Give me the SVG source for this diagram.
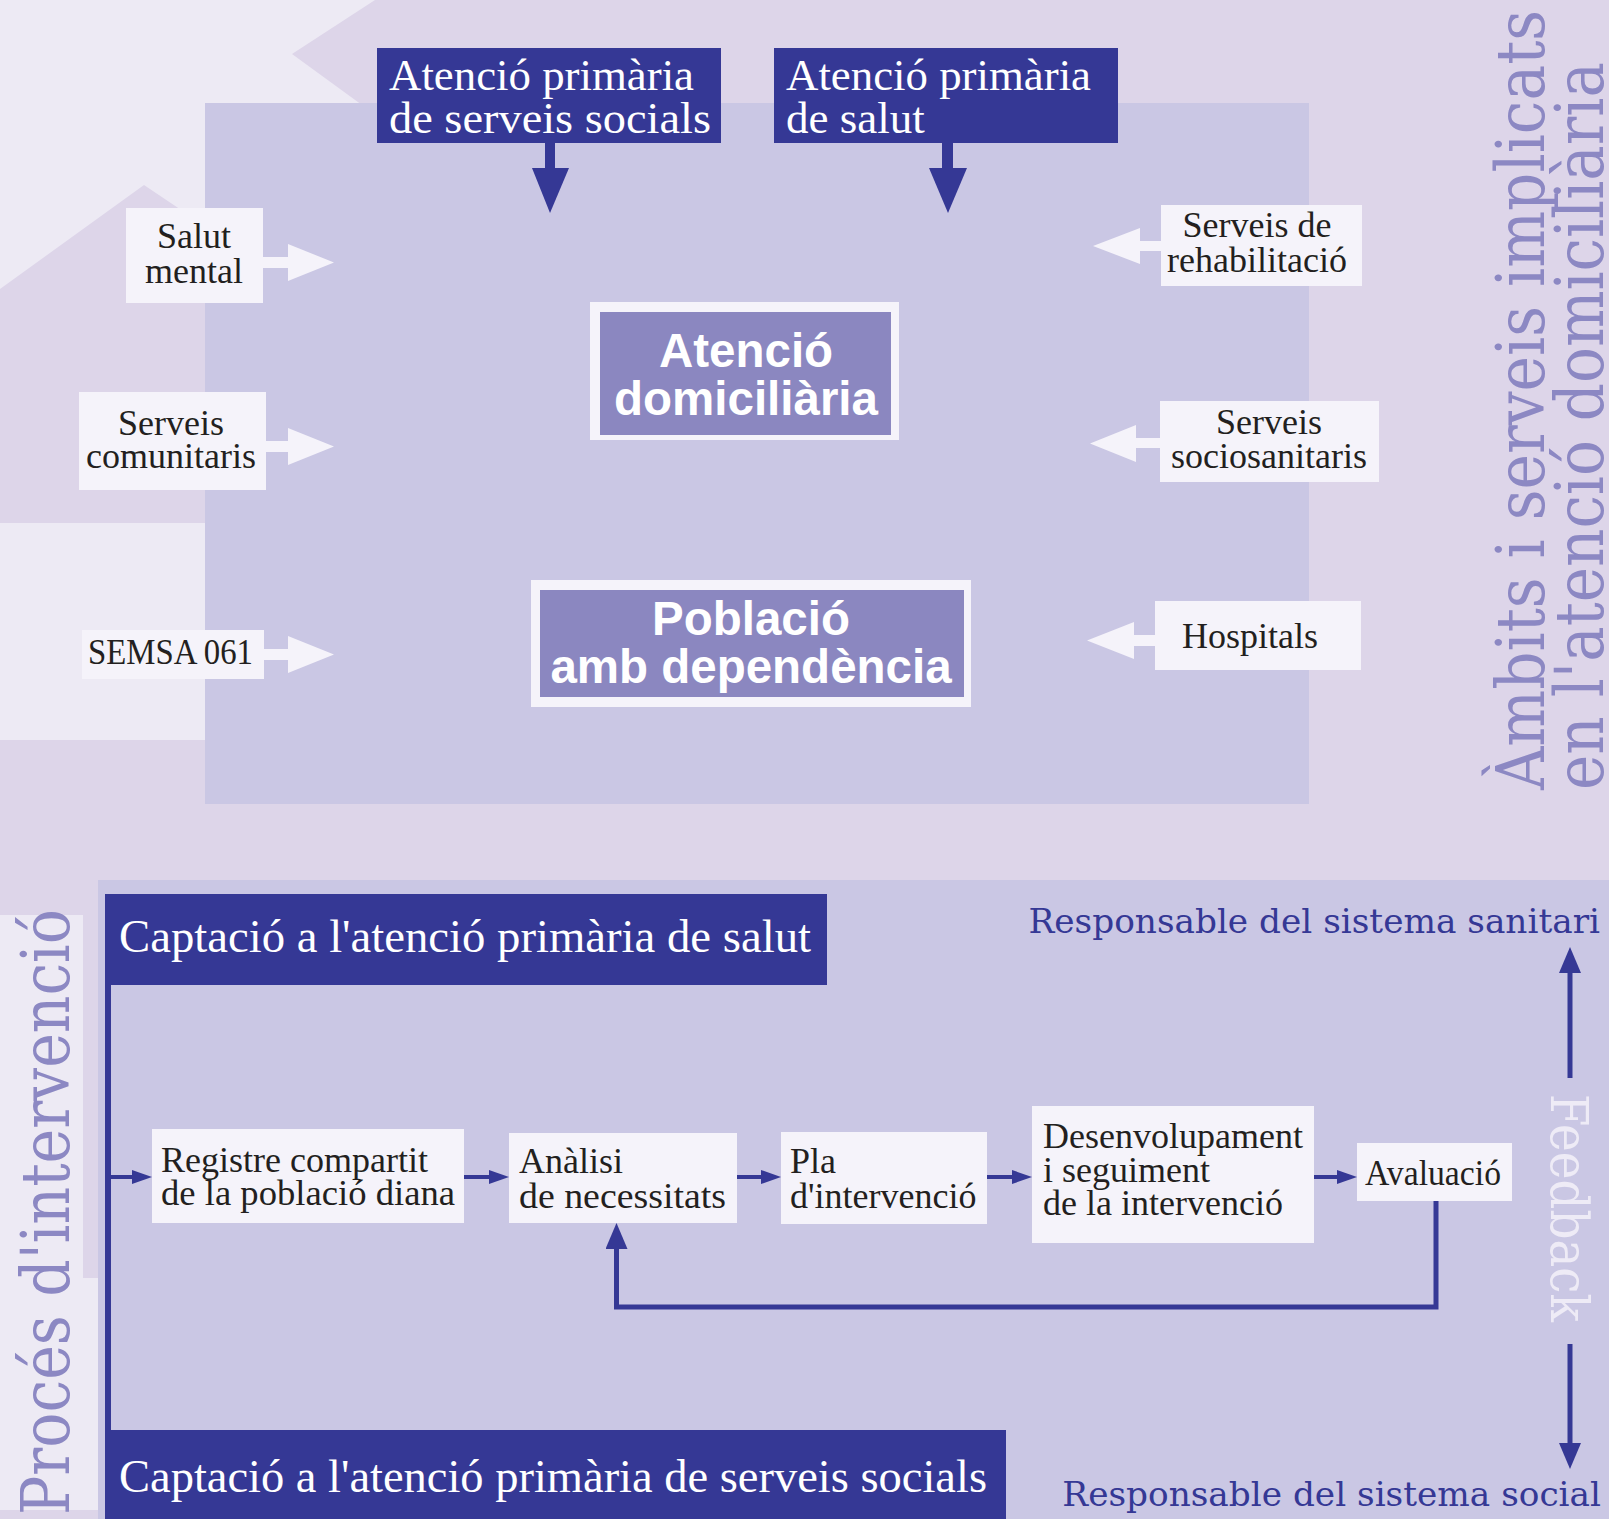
<svg xmlns="http://www.w3.org/2000/svg" width="1609" height="1519" viewBox="0 0 1609 1519">
<defs>
<style>
.bgl{fill:#EDEAF4}
.pane{fill:#CAC7E4}
.box{fill:#F5F3FA}
.dk{fill:#353895}
.mid{fill:#8B87C0}
.t{font-family:"Liberation Serif","Times New Roman",serif;font-size:36px;fill:#231F20}
.tc{text-anchor:middle}
.wt{font-family:"Liberation Serif","Times New Roman",serif;fill:#FFFFFF}
.sans{font-family:"Liberation Sans",Arial,sans-serif;font-weight:bold;font-size:47.5px;fill:#FFFFFF;text-anchor:middle}
.ttl{font-family:"DejaVu Serif","Liberation Serif",serif;font-size:68px;fill:#8C88C3}
.resp{font-family:"DejaVu Serif","Liberation Serif",serif;font-size:34.3px;fill:#353895;text-anchor:end}
.conn{stroke:#353895;fill:none}
.warr{fill:#F5F3FA}
</style>
<marker id="ah" markerUnits="userSpaceOnUse" viewBox="0 0 20 14" markerWidth="20" markerHeight="14" refX="0" refY="7" orient="auto">
<path d="M0,0 L20,7 L0,14 Z" fill="#353895"/>
</marker>
<marker id="ahL" markerUnits="userSpaceOnUse" viewBox="0 0 26 22" markerWidth="26" markerHeight="22" refX="0" refY="11" orient="auto">
<path d="M0,0 L26,11 L0,22 Z" fill="#353895"/>
</marker>
</defs>

<!-- background -->
<rect x="0" y="0" width="1609" height="1519" fill="#DDD5E9"/>
<polygon class="bgl" points="0,0 375,0 292,54 362,105 205,105 205,226 144,185 0,289"/>
<rect class="bgl" x="0" y="523" width="206" height="217"/>
<rect class="pane" x="205" y="103" width="1104" height="701"/>
<rect class="pane" x="98" y="880" width="1511" height="639"/>
<rect class="bgl" x="0" y="915" width="83" height="595"/>
<rect class="bgl" x="83" y="1278" width="15" height="232"/>

<!-- titles -->
<g id="title-ambits">
<text class="ttl" transform="translate(1544,790) rotate(-90)" textLength="780" lengthAdjust="spacingAndGlyphs">Àmbits i serveis implicats</text>
<text class="ttl" transform="translate(1603,790) rotate(-90)" textLength="728" lengthAdjust="spacingAndGlyphs">en l'atenció domiciliària</text>
</g>
<g id="title-proces">
<text class="ttl" transform="translate(69,1515) rotate(-90)" textLength="606" lengthAdjust="spacingAndGlyphs">Procés d'intervenció</text>
</g>
<g id="title-feedback">
<text transform="translate(1551,1094) rotate(90)" font-family="DejaVu Serif, Liberation Serif, serif" font-size="53" fill="#EEEBF6" textLength="228" lengthAdjust="spacingAndGlyphs">Feedback</text>
</g>

<!-- connectors -->
<g id="connectors">
<rect class="dk" x="545" y="143" width="10" height="26"/>
<polygon class="dk" points="532,168 569,168 550,213"/>
<rect class="dk" x="942" y="143" width="11" height="26"/>
<polygon class="dk" points="929,168 967,168 948,213"/>
<polygon class="warr" points="263,257 288,257 288,244 334,262.5 288,281 288,268 263,268"/>
<polygon class="warr" points="266,441 288,441 288,428 334,446.5 288,465 288,452 266,452"/>
<polygon class="warr" points="264,649 288,649 288,636 334,654.5 288,673 288,660 264,660"/>
<polygon class="warr" points="1161,241 1140,241 1140,228 1093,246 1140,264 1140,251 1161,251"/>
<polygon class="warr" points="1160,438 1136,438 1136,425 1090,443.5 1136,462 1136,448 1160,448"/>
<polygon class="warr" points="1155,635 1134,635 1134,622 1087,640.5 1134,659 1134,646 1155,646"/>
<path class="conn" stroke-width="6" d="M108,984 V1431"/>
<path class="conn" stroke-width="4" d="M110,1177 H132" marker-end="url(#ah)"/>
<path class="conn" stroke-width="4" d="M464,1177 H489" marker-end="url(#ah)"/>
<path class="conn" stroke-width="4" d="M737,1177 H761" marker-end="url(#ah)"/>
<path class="conn" stroke-width="4" d="M987,1177 H1012" marker-end="url(#ah)"/>
<path class="conn" stroke-width="4" d="M1314,1177 H1337" marker-end="url(#ah)"/>
<path class="conn" stroke-width="5" d="M1436,1201 V1307 H616.5 V1249" marker-end="url(#ahL)"/>
<path class="conn" stroke-width="5" d="M1570,1078 V973" marker-end="url(#ahL)"/>
<path class="conn" stroke-width="5" d="M1570,1344 V1443" marker-end="url(#ahL)"/>
</g>

<!-- top nodes -->
<g id="node-apss">
<rect class="dk" x="377" y="48" width="344" height="95"/>
<text class="wt" x="389" y="90" font-size="45" textLength="305" lengthAdjust="spacingAndGlyphs">Atenció primària</text>
<text class="wt" x="389" y="133" font-size="45" textLength="322" lengthAdjust="spacingAndGlyphs">de serveis socials</text>
</g>
<g id="node-aps">
<rect class="dk" x="774" y="48" width="344" height="95"/>
<text class="wt" x="786" y="90" font-size="45" textLength="305" lengthAdjust="spacingAndGlyphs">Atenció primària</text>
<text class="wt" x="786" y="133" font-size="45">de salut</text>
</g>
<g id="node-salut-mental">
<rect class="box" x="126" y="208" width="137" height="95"/>
<text class="t tc" x="194" y="248">Salut</text>
<text class="t tc" x="194" y="283">mental</text>
</g>
<g id="node-serveis-comunitaris">
<rect class="box" x="79" y="392" width="187" height="98"/>
<text class="t tc" x="171" y="435">Serveis</text>
<text class="t tc" x="171" y="468">comunitaris</text>
</g>
<g id="node-semsa">
<rect class="box" x="82" y="630" width="182" height="49"/>
<text class="t" x="88" y="664" textLength="165" lengthAdjust="spacingAndGlyphs">SEMSA 061</text>
</g>
<g id="node-rehabilitacio">
<rect class="box" x="1161" y="205" width="201" height="81"/>
<text class="t tc" x="1257" y="237">Serveis de</text>
<text class="t tc" x="1257" y="272">rehabilitació</text>
</g>
<g id="node-sociosanitaris">
<rect class="box" x="1160" y="401" width="219" height="81"/>
<text class="t tc" x="1269" y="434">Serveis</text>
<text class="t tc" x="1269" y="468">sociosanitaris</text>
</g>
<g id="node-hospitals">
<rect class="box" x="1155" y="601" width="206" height="69"/>
<text class="t tc" x="1250" y="648">Hospitals</text>
</g>
<g id="node-atencio-domiciliaria">
<rect class="box" x="590" y="302" width="309" height="138"/>
<rect class="mid" x="600" y="312" width="291" height="123"/>
<text class="sans" x="746" y="367">Atenció</text>
<text class="sans" x="746" y="415">domiciliària</text>
</g>
<g id="node-poblacio">
<rect class="box" x="531" y="580" width="440" height="127"/>
<rect class="mid" x="540" y="590" width="424" height="107"/>
<text class="sans" x="751" y="635">Població</text>
<text class="sans" x="751" y="683">amb dependència</text>
</g>

<!-- bottom nodes -->
<g id="node-captacio-salut">
<rect class="dk" x="105" y="894" width="722" height="91"/>
<text class="wt" x="119" y="952" font-size="46" textLength="692" lengthAdjust="spacingAndGlyphs">Captació a l'atenció primària de salut</text>
</g>
<g id="node-captacio-social">
<rect class="dk" x="105" y="1430" width="901" height="89"/>
<text class="wt" x="119" y="1492" font-size="46.5" textLength="868" lengthAdjust="spacingAndGlyphs">Captació a l'atenció primària de serveis socials</text>
</g>
<g id="node-registre">
<rect class="box" x="152" y="1129" width="312" height="94"/>
<text class="t" x="161" y="1172">Registre compartit</text>
<text class="t" x="161" y="1205" textLength="294" lengthAdjust="spacingAndGlyphs">de la població diana</text>
</g>
<g id="node-analisi">
<rect class="box" x="509" y="1133" width="228" height="90"/>
<text class="t" x="519" y="1173">Anàlisi</text>
<text class="t" x="519" y="1208" textLength="207" lengthAdjust="spacingAndGlyphs">de necessitats</text>
</g>
<g id="node-pla">
<rect class="box" x="781" y="1132" width="206" height="92"/>
<text class="t" x="790" y="1173">Pla</text>
<text class="t" x="790" y="1208">d'intervenció</text>
</g>
<g id="node-desenvolupament">
<rect class="box" x="1032" y="1106" width="282" height="137"/>
<text class="t" x="1043" y="1148">Desenvolupament</text>
<text class="t" x="1043" y="1182">i seguiment</text>
<text class="t" x="1043" y="1215">de la intervenció</text>
</g>
<g id="node-avaluacio">
<rect class="box" x="1357" y="1143" width="155" height="58"/>
<text class="t" x="1365" y="1185" textLength="136" lengthAdjust="spacingAndGlyphs">Avaluació</text>
</g>
<g id="label-sanitari">
<text class="resp" x="1600" y="933">Responsable del sistema sanitari</text>
</g>
<g id="label-social">
<text class="resp" x="1601" y="1506">Responsable del sistema social</text>
</g>
</svg>
